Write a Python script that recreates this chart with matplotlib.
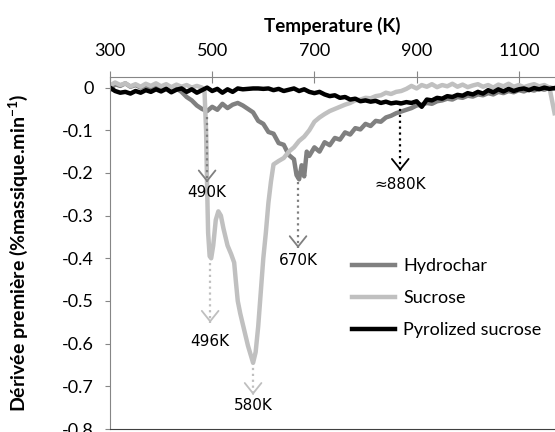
import matplotlib.pyplot as plt
import numpy as np

# data (temperature in K, derivative in %mass/min)
temp_pyro = list(range(300, 1180, 10))
pyro = [0.000, -0.008, -0.012, -0.010, -0.014, -0.008, -0.012, -0.006, -0.010, -0.004,
        -0.009, -0.003, -0.011, -0.005, -0.002, -0.010, -0.004, -0.012, -0.006, 0.000,
        -0.008, -0.003, -0.012, -0.004, -0.010, -0.002, -0.004, -0.003, -0.002, -0.002,
        -0.003, -0.002, -0.006, -0.003, -0.008, -0.005, -0.002, -0.008, -0.004, -0.010,
        -0.013, -0.010, -0.016, -0.020, -0.018, -0.024, -0.022, -0.028, -0.026, -0.032,
        -0.030, -0.033, -0.031, -0.036, -0.033, -0.037, -0.035, -0.037, -0.034, -0.036,
        -0.032, -0.045, -0.028, -0.030, -0.024, -0.026, -0.020, -0.022, -0.017, -0.019,
        -0.013, -0.016, -0.010, -0.014, -0.006, -0.011, -0.004, -0.009, -0.003, -0.008,
        -0.004, -0.002, -0.006, -0.001, -0.004, 0.000, -0.003, -0.001]

temp_hydro = (list(range(300, 670, 10)) + [665, 670, 675, 680, 685]
              + list(range(690, 1180, 10)))
temp_hydro = sorted(set(temp_hydro))
hydro = [-0.005, 0.008, 0.004, 0.010, 0.002, 0.006, 0.000, 0.005, -0.002, 0.004,
         0.001, 0.006, -0.003, -0.002, -0.010, -0.022, -0.030, -0.042, -0.050, -0.055,
         -0.045, -0.052, -0.038, -0.048, -0.040, -0.036, -0.042, -0.050, -0.058, -0.078,
         -0.085, -0.104, -0.108, -0.130, -0.134, -0.158, -0.168, -0.205, -0.215, -0.182,
         -0.208, -0.150, -0.160, -0.140, -0.150, -0.128, -0.135, -0.118, -0.122, -0.105,
         -0.110, -0.095, -0.098, -0.085, -0.090, -0.078, -0.080, -0.070, -0.066, -0.060,
         -0.056, -0.052, -0.048, -0.042, -0.040, -0.036, -0.038, -0.032, -0.030, -0.026,
         -0.028, -0.022, -0.024, -0.019, -0.021, -0.016, -0.018, -0.013, -0.016, -0.010,
         -0.013, -0.008, -0.011, -0.006, -0.009, -0.004, -0.007, -0.002, -0.005, 0.000,
         -0.002]

temp_sucrose = (list(range(300, 490, 10))
                + [485, 488, 490, 492, 495, 498, 502, 507, 512, 517, 522, 530, 537, 543,
                   546, 550, 555, 560, 565, 570, 575, 580, 585, 590, 595, 600, 605, 610, 615]
                + list(range(620, 1170, 10)) + [1165, 1170])
temp_sucrose = sorted(set(temp_sucrose))
sucrose = [0.005, 0.012, 0.006, 0.010, 0.003, 0.008, 0.002, 0.009, 0.004, 0.010,
           0.003, 0.008, 0.001, 0.007, 0.002, 0.006, 0.000, 0.004, 0.000,
           -0.010, -0.100, -0.230, -0.340, -0.395, -0.400, -0.370, -0.310, -0.290, -0.300,
           -0.330, -0.370, -0.390, -0.410, -0.450, -0.500, -0.530, -0.555, -0.580, -0.605,
           -0.625, -0.645, -0.620, -0.560, -0.480, -0.400, -0.340, -0.270, -0.220,
           -0.180, -0.172, -0.165, -0.150, -0.140, -0.125, -0.115, -0.100, -0.080, -0.070,
           -0.062, -0.055, -0.050, -0.045, -0.040, -0.036, -0.030, -0.028, -0.024, -0.025,
           -0.020, -0.018, -0.012, -0.015, -0.010, -0.008, -0.003, 0.004, -0.002, 0.006,
           0.002, 0.008, 0.001, 0.006, 0.003, 0.009, 0.002, 0.007, 0.001, 0.005,
           0.008, 0.002, 0.006, 0.000, 0.007, 0.003, 0.009, 0.002, 0.006, 0.001,
           0.005, 0.008, 0.003, 0.006, 0.000, -0.030, -0.060]

# peak markers: x position, start of arrow, tip, label y, label, colour
peak_x = [490, 668, 868, 496, 580]
peak_from = [-0.07, -0.222, -0.037, -0.41, -0.643]
peak_tip = [-0.222, -0.376, -0.195, -0.551, -0.72]
peak_label_y = [-0.245, -0.404, -0.226, -0.596, -0.746]
peak_labels = ['490K', '670K', '≈880K', '496K', '580K']
peak_colors = ['#7f7f7f', '#7f7f7f', '#000000', '#bfbfbf', '#bfbfbf']

plt.rcParams['font.family'] = ['Lato', 'DejaVu Sans']

fig = plt.figure(figsize=(5.55, 4.32), dpi=100)
ax = fig.add_axes([110 / 555, 3 / 432, 445 / 555, 352.5 / 432])

ax.plot(temp_hydro, hydro, color='#808080', lw=3.2, label='Hydrochar')
ax.plot(temp_sucrose, sucrose, color='#c0c0c0', lw=3.2, label='Sucrose')
ax.plot(temp_pyro, pyro, color='black', lw=3.2, label='Pyrolized sucrose')

for x, y0, y1, ly, lab, c in zip(peak_x, peak_from, peak_tip, peak_label_y,
                                  peak_labels, peak_colors):
    ax.plot([x, x], [y0, y1], ls=':', color=c, lw=1.6)
    ax.annotate('', xy=(x, y1), xytext=(x, y1 + 0.004),
                arrowprops=dict(arrowstyle='->,head_length=0.75,head_width=0.6',
                                color=c, lw=1.3, shrinkA=0, shrinkB=0))
    ax.text(x, ly, lab, ha='center', va='center', fontsize=11,
            family='DejaVu Sans')

ax.set_xlim(300, 300 + 445 / 0.511)
ax.set_ylim(-0.8, 0.026)
ax.set_xticks([300, 500, 700, 900, 1100])
ax.set_yticks(np.arange(-0.8, 0.01, 0.1))
ax.set_yticklabels(['-0.8', '-0.7', '-0.6', '-0.5', '-0.4', '-0.3', '-0.2', '-0.1', '0'])

ax.xaxis.tick_top()
ax.xaxis.set_label_position('top')
ax.tick_params(axis='x', direction='inout', length=8.6, pad=8, labelsize=13,
               color='#868686')
ax.tick_params(axis='y', direction='out', length=3.6, pad=8, labelsize=13,
               color='#868686')
ax.spines['right'].set_visible(False)
ax.spines['top'].set_color('#868686')
ax.spines['left'].set_color('#868686')
ax.spines['bottom'].set_color('#404040')

ax.set_xlabel('Temperature (K)', fontsize=13.5, fontweight='bold', labelpad=8)
ax.set_ylabel('Dérivée première (%massique.min$^{\\mathregular{-1}}$)',
              fontsize=14, fontweight='bold')
ax.yaxis.set_label_coords(-0.18, 0.5)

ax.legend(loc='upper left', bbox_to_anchor=(352 / 555, (432 - 258) / 432),
          bbox_transform=fig.transFigure, frameon=False, fontsize=13,
          handlelength=2.4, handletextpad=0.45, labelspacing=0.9,
          borderpad=0, borderaxespad=0)

fig.savefig('out.png', dpi=100)
